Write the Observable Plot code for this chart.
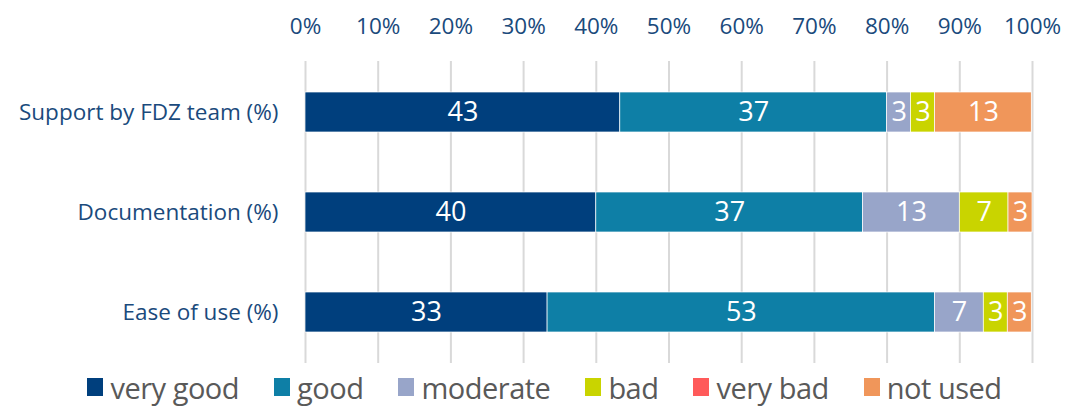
<!DOCTYPE html>
<html>
<head>
<meta charset="utf-8">
<script src="https://cdn.jsdelivr.net/npm/d3@7"></script>
<script src="https://cdn.jsdelivr.net/npm/@observablehq/plot@0.6"></script>
<style>
  html, body { margin: 0; padding: 0; background: #fff; }
  body { width: 1066px; height: 407px; overflow: hidden; font-family: "Open Sans", sans-serif; }
  #legend { display: flex; justify-content: center; align-items: center; gap: 35px; height: 42px; margin-left: 23px; }
  .item { display: flex; align-items: center; gap: 7px; font-size: 29px; color: #595959; font-family: "Open Sans", sans-serif; letter-spacing: -0.5px; line-height: 1; }
  .sw { width: 16px; height: 18px; display: inline-block; }
</style>
</head>
<body>
<div id="chart"></div>
<div id="legend"></div>
<script>
const questions = ["Support by FDZ team (%)", "Documentation (%)", "Ease of use (%)"];
const ratings = ["very good", "good", "moderate", "bad", "very bad", "not used"];
const colors = ["#003F7D", "#0E7FA6", "#98A5C9", "#C9D400", "#FF5A5A", "#F0965A"];
// percentages per question, in rating order
const supportValues = [43.3, 36.7, 3.3, 3.3, 0, 13.3];
const documentationValues = [40.0, 36.7, 13.3, 6.7, 0, 3.3];
const easeValues = [33.3, 53.3, 6.7, 3.3, 0, 3.3];
const xTicks = [0, 10, 20, 30, 40, 50, 60, 70, 80, 90, 100];

const series = [supportValues, documentationValues, easeValues];
const data = [];
questions.forEach((q, i) => ratings.forEach((r, j) => data.push({question: q, rating: r, value: series[i][j]})));
const shown = data.filter(d => d.value > 0);

const chart = Plot.plot({
  width: 1066,
  height: 366,
  marginLeft: 305,
  marginRight: 34,
  marginTop: 61,
  marginBottom: 3,
  style: {fontFamily: "Open Sans, sans-serif", background: "#fff"},
  x: {domain: [0, 100], axis: null},
  y: {domain: questions, axis: null, paddingInner: 0.604, paddingOuter: 0.302},
  color: {domain: ratings, range: colors},
  marks: [
    Plot.gridX(xTicks, {stroke: "#d9d9d9", strokeOpacity: 1, strokeWidth: 2}),
    Plot.axisX(xTicks, {anchor: "top", label: null, tickSize: 0, tickPadding: 28, fontSize: 22.5, fill: "#1a4a7c", tickFormat: d => d + "%"}),
    Plot.axisY({anchor: "left", label: null, tickSize: 0, tickPadding: 27, fontSize: 22.5, fill: "#1a4a7c"}),
    Plot.barX(shown, Plot.stackX({x: "value", y: "question", fill: "rating", order: ratings, stroke: "#fff", strokeWidth: 0.7})),
    Plot.text(shown, Plot.stackX({x: "value", y: "question", z: "rating", order: ratings, text: d => Math.round(d.value), fill: "#fff", fontSize: 27}))
  ]
});
document.getElementById("chart").appendChild(chart);

const legend = document.getElementById("legend");
ratings.forEach((r, i) => {
  const it = document.createElement("div");
  it.className = "item";
  const sw = document.createElement("span");
  sw.className = "sw";
  sw.style.background = colors[i];
  const t = document.createElement("span");
  t.textContent = r;
  it.appendChild(sw); it.appendChild(t);
  legend.appendChild(it);
});
</script>
</body>
</html>
